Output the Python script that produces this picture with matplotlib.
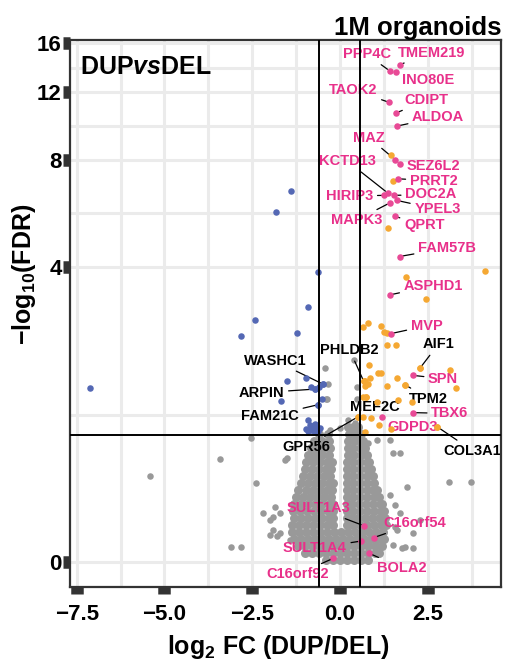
import numpy as np
import matplotlib
matplotlib.use('Agg')
import matplotlib.pyplot as plt

# ---- data (log2 FC, -log10 FDR) ----
fc_cut = 0.585
fdr_cut = 1.0

gray_x = [-2.54, -3.42, -5.41, -2.39, -1.57, -0.79, 3.11, 3.74, 2.09, -3.09, -2.83, -1.99, -2.18, -1.85,
          1.71, 1.52, 1.90, 1.71, 2.28, 1.62, 1.76, 1.05, 1.42, 0.81, 0.40, -0.43, 0.48, -0.38, 0.24,
          0.43, -0.28, 0.0, -0.33, -0.41, -1.9, -2.0, -1.8, 1.57, 1.85, -0.57, -0.66, -1.52, 0.50,
          -1.71, -1.91, -1.71, -1.42, 1.51, 2.08, 1.57, 1.42]
gray_y = [0.97, 0.752, 0.602, 0.537, 0.745, 0.755, 0.545, 0.545, 0.17, 0.083, 0.087, 0.258, 0.305, 0.348,
          0.81, 0.81, 0.508, 0.305, 0.258, 0.191, 0.078, 0.946, 0.946, 0.912, 2.01, 1.88, 1.60, 1.44, 1.17,
          1.14, 1.056, 1.08, 1.64, 1.43, 0.28, 0.16, 0.15, 0.21, 0.087, 0.92, 0.777, 0.76, 1.43,
          0.307, 0.191, 0.172, 0.128, 0.097, 0.079, 0.365, 0.441]

# dense centre of the volcano, one row per FDR level
cloud_rows = [
    (0.01, [-0.4, -0.2, 0.0, 0.2, 0.4, 0.6, 0.8]),
    (0.05, [-1.0, -0.8, -0.6, -0.4, -0.2, 0.0, 0.2, 0.4, 0.6, 0.8, 1.0, 1.12]),
    (0.09, [-1.2, -1.0, -0.8, -0.6, -0.4, -0.2, 0.0, 0.2, 0.4, 0.6, 0.8, 1.0, 1.2]),
    (0.134, [-1.32, -1.12, -0.92, -0.72, -0.52, -0.32, -0.12, 0.08, 0.28, 0.48, 0.68, 0.88, 1.08, 1.26]),
    (0.178, [-1.36, -1.16, -0.96, -0.76, -0.56, -0.36, -0.16, 0.04, 0.24, 0.44, 0.64, 0.84, 1.04, 1.24]),
    (0.224, [-1.36, -1.16, -0.96, -0.76, -0.56, -0.36, -0.2, 0.2, 0.36, 0.56, 0.76, 0.96, 1.16, 1.3]),
    (0.272, [-1.3, -1.1, -0.9, -0.7, -0.5, -0.32, -0.2, 0.2, 0.34, 0.52, 0.72, 0.92, 1.12, 1.28]),
    (0.32, [-1.34, -1.14, -0.94, -0.74, -0.54, -0.34, -0.2, 0.2, 0.36, 0.56, 0.76, 0.96, 1.16, 1.26]),
    (0.373, [-1.3, -1.1, -0.9, -0.7, -0.5, -0.32, -0.2, 0.2, 0.34, 0.54, 0.74, 0.94, 1.14, 1.2]),
    (0.426, [-1.24, -1.04, -0.84, -0.64, -0.44, -0.26, 0.2, 0.36, 0.56, 0.76, 0.96, 1.12]),
    (0.48, [-1.18, -0.98, -0.78, -0.58, -0.38, -0.22, 0.2, 0.36, 0.56, 0.76, 0.94, 1.06]),
    (0.54, [-1.12, -0.92, -0.72, -0.52, -0.32, -0.2, 0.2, 0.38, 0.58, 0.78, 0.98]),
    (0.60, [-1.06, -0.86, -0.66, -0.46, -0.28, 0.2, 0.36, 0.56, 0.76, 0.94]),
    (0.66, [-1.0, -0.8, -0.6, -0.4, -0.24, 0.2, 0.38, 0.58, 0.78, 0.9]),
    (0.725, [-0.96, -0.76, -0.56, -0.36, -0.22, 0.2, 0.36, 0.56, 0.76, 0.84]),
    (0.79, [-0.9, -0.7, -0.5, -0.32, 0.22, 0.4, 0.6, 0.78]),
    (0.86, [-0.82, -0.62, -0.44, -0.28, 0.22, 0.38, 0.56, 0.72]),
    (0.935, [-0.74, -0.5, -0.3, 0.24, 0.4, 0.58, 0.66]),
    (1.01, [-0.6, -0.35, 0.26, 0.42, 0.6]),
    (1.09, [0.24, 0.38, 0.52]),
]

blue_x = [-1.39, -1.81, -0.61, -0.91, -2.43, -2.81, -1.22, -7.12, -1.51, -0.97, -1.69, -0.81, -0.71, -0.59,
          -0.48, -0.62, -0.52, -0.92, -0.85, -0.76, -0.64, -0.97, -0.81, -0.57, -0.70, -0.90, -0.62, -0.75, -0.68]
blue_y = [6.58, 5.77, 3.87, 3.02, 2.75, 2.44, 2.49, 1.585, 1.68, 1.73, 1.41, 1.60, 1.57, 1.60,
          1.64, 1.36, 1.44, 1.17, 1.11, 1.09, 1.08, 1.07, 1.05, 1.08, 1.12, 1.04, 1.04, 1.04, 1.06]

orange_x = [1.47, 1.50, 1.37, 4.12, 1.88, 2.45, 0.65, 0.81, 1.17, 1.25, 1.35, 1.35, 1.60, 0.82, 1.09, 1.17,
            0.87, 0.71, 0.68, 0.80, 0.71, 1.35, 1.64, 1.86, 2.28, 3.15, 3.30, 0.65, 0.74, 1.06, 1.66, 2.06,
            0.52, 0.65, 0.88, 1.12, 1.47, 2.78, 0.71]
orange_y = [8.2, 7.0, 5.2, 3.9, 3.75, 3.2, 2.61, 2.69, 2.63, 2.51, 2.50, 2.27, 2.27, 1.93, 1.81, 1.81,
            1.73, 1.69, 1.68, 1.64, 1.61, 1.61, 1.73, 1.63, 1.88, 1.85, 1.585, 1.46, 1.46, 1.39, 1.42, 1.39,
            1.21, 1.21, 1.20, 1.11, 1.07, 1.09, 1.03]

# highlighted genes (pink)
pink_genes = ['PPP4C', 'TMEM219', 'INO80E', 'TAOK2', 'CDIPT', 'ALDOA', 'MAZ', 'SEZ6L2', 'PRRT2', 'KCTD13',
              'HIRIP3', 'DOC2A', 'YPEL3', 'MAPK3', 'QPRT', 'FAM57B', 'ASPHD1', 'MVP', 'SPN', 'TBX6', 'GDPD3',
              'SULT1A3', 'C16orf54', 'SULT1A4', 'BOLA2', 'C16orf92']
pink_x = [1.42, 1.70, 1.59, 1.40, 1.60, 1.62, 1.57, 1.71, 1.65, 1.36, 1.27, 1.55, 1.62, 1.42, 1.57, 1.70,
          1.43, 1.46, 2.08, 2.08, 1.21, 0.68, 0.96, 0.60, 0.83, -0.19]
pink_y = [13.6, 14.1, 13.5, 11.3, 10.6, 9.8, 8.0, 7.8, 7.1, 6.5, 6.4, 6.4, 6.2, 6.1, 5.6, 4.3,
          3.3, 2.48, 1.77, 1.26, 1.21, 0.219, 0.142, 0.121, 0.049, 0.020]
pink_lab_x = [0.76, 2.61, 2.50, 0.38, 2.47, 2.80, 0.83, 2.66, 2.67, 0.22, 0.28, 2.59, 2.78, 0.48, 2.40, 3.05,
              2.66, 2.47, 2.94, 3.13, 2.06, -0.62, 2.14, -0.71, 1.76, -1.19]
pink_lab_y = [15.0, 15.12, 12.89, 12.15, 11.45, 10.33, 9.14, 7.70, 7.02, 7.91, 6.38, 6.44, 5.86, 5.47, 5.28, 4.55,
              3.52, 2.63, 1.72, 1.25, 1.09, 0.34, 0.235, 0.078, -0.031, -0.063]

# other labelled genes (black text)
black_genes = ['WASHC1', 'ARPIN', 'FAM21C', 'PHLDB2', 'MEF2C', 'GPR56', 'AIF1', 'TPM2', 'COL3A1']
black_x = [-0.48, -0.71, -0.62, 0.68, 0.74, 0.52, 2.28, 1.86, 2.78]
black_y = [1.64, 1.57, 1.36, 1.68, 1.46, 1.21, 1.88, 1.63, 1.09]
black_lab_x = [-1.85, -2.23, -1.99, 0.28, 1.00, -0.95, 2.80, 2.52, 3.78]
black_lab_y = [2.00, 1.52, 1.22, 2.18, 1.33, 0.877, 2.28, 1.44, 0.836]

y_ticks = [0, 4, 8, 12, 16]
x_ticks = [-7.5, -5.0, -2.5, 0.0, 2.5]

cx, cy = [], []
for yy, xs in cloud_rows:
    cx += xs
    cy += [yy] * len(xs)

plt.rcParams['font.family'] = ['Liberation Sans', 'DejaVu Sans']
plt.rcParams['font.weight'] = 'bold'
plt.rcParams['mathtext.fontset'] = 'custom'
plt.rcParams['mathtext.rm'] = 'Liberation Sans:bold'
plt.rcParams['mathtext.bf'] = 'Liberation Sans:bold'
plt.rcParams['mathtext.it'] = 'Liberation Sans:italic:bold'

pink = '#E8308A'
grey = '#999999'
dot = 22


def fwd(y):
    return np.log10(np.clip(np.asarray(y, dtype=float) + 1, 1e-6, None))


def inv(t):
    return 10 ** np.asarray(t, dtype=float) - 1


fig = plt.figure(figsize=(5.05, 6.61), dpi=100)
ax = fig.add_axes([70 / 505, 1 - 587 / 661, 431 / 505, 547 / 661])
ax.set_yscale('function', functions=(fwd, inv))
ax.set_xlim(-7.69, 4.59)
ax.set_ylim(inv(-0.0593), inv(1.2376))

# grid (minor lines halfway in transformed space)
ax.set_xticks(x_ticks)
ax.set_xticks([-6.25, -3.75, -1.25, 1.25, 3.75], minor=True)
ax.set_yticks(y_ticks)
mids = [inv((fwd(a) + fwd(b)) / 2) for a, b in zip(y_ticks[:-1], y_ticks[1:])]
ax.set_yticks(mids, minor=True)
ax.grid(True, which='both', color='#EBEBEB', linewidth=2.2, zorder=0)
ax.set_axisbelow(True)
ax.tick_params(which='minor', length=0)
ax.tick_params(which='major', length=5, width=9, color='#333333', labelsize=16)
ax.tick_params(axis='x', pad=7)
ax.tick_params(axis='y', pad=1)
ax.set_xticklabels(['\u22127.5', '\u22125.0', '\u22122.5', '0.0', '2.5'], fontweight='bold')
ax.set_yticklabels([str(v) for v in y_ticks], fontweight='bold')
for s in ax.spines.values():
    s.set_color('#333333')
    s.set_linewidth(1.6)

ax.axvline(-fc_cut, color='black', lw=1.4, zorder=4)
ax.axvline(fc_cut, color='black', lw=1.4, zorder=4)
ax.axhline(fdr_cut, color='black', lw=1.4, zorder=4)

ax.scatter(cx, cy, s=42, color=grey, linewidths=0, zorder=2.2)
ax.scatter(gray_x, gray_y, s=dot, color=grey, linewidths=0, zorder=2.2)
ax.scatter(blue_x, blue_y, s=dot, color='#5468B4', linewidths=0, zorder=3)
ax.scatter(orange_x, orange_y, s=dot, color='#F5A833', linewidths=0, zorder=3)
ax.scatter(black_x[:3], black_y[:3], s=dot, color='#5468B4', linewidths=0, zorder=3)
ax.scatter(black_x[3:], black_y[3:], s=dot, color='#F5A833', linewidths=0, zorder=3)
ax.scatter(pink_x, pink_y, s=dot, color='#E84A96', linewidths=0, zorder=3.5)

for name, x, y, lx, ly in zip(pink_genes, pink_x, pink_y, pink_lab_x, pink_lab_y):
    ax.annotate(name, xy=(x, y), xytext=(lx, ly), ha='center', va='center', fontsize=10.5,
                fontweight='bold', color=pink, zorder=2.5,
                arrowprops=dict(arrowstyle='-', color='black', lw=0.9, shrinkA=1, shrinkB=2))
for name, x, y, lx, ly in zip(black_genes, black_x, black_y, black_lab_x, black_lab_y):
    ax.annotate(name, xy=(x, y), xytext=(lx, ly), ha='center', va='center', fontsize=10.5,
                fontweight='bold', color='black', zorder=2.5,
                arrowprops=dict(arrowstyle='-', color='black', lw=0.9, shrinkA=1, shrinkB=2))

fig.text(80 / 505, 1 - 74 / 661, r'DUP$\mathit{vs}$DEL', fontsize=18, fontweight='bold', ha='left', va='baseline')
fig.text(501 / 505, 1 - 35 / 661, '1M organoids', fontsize=18.5, fontweight='bold', ha='right', va='baseline')
fig.text(278 / 505, 1 - 654 / 661, r'log$_{2}$ FC (DUP/DEL)', fontsize=18, fontweight='bold',
         ha='center', va='baseline')
fig.text(24 / 505, 1 - 274 / 661, '\u2212log$_{10}$(FDR)', fontsize=18, fontweight='bold',
         rotation=90, ha='center', va='center')

plt.savefig('out.png', dpi=100)
